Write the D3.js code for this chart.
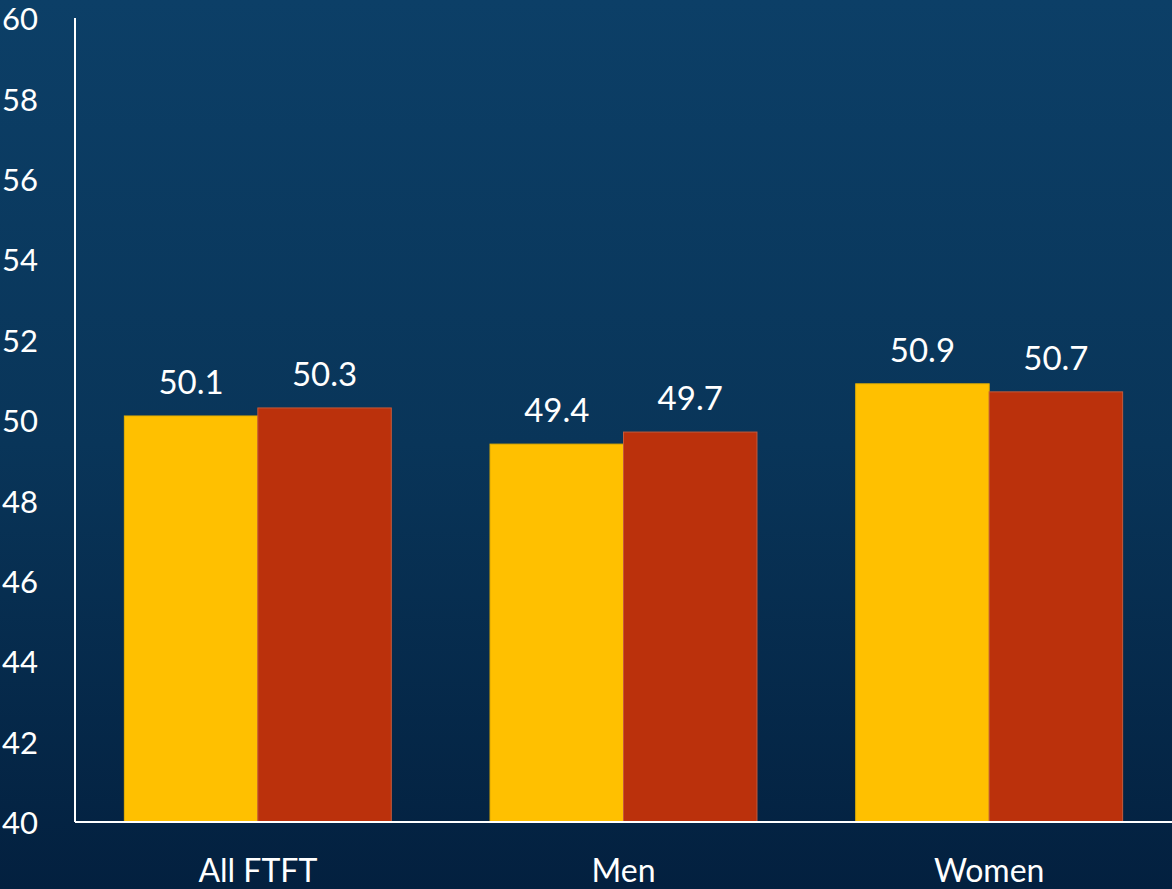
<!DOCTYPE html>
<html><head><meta charset="utf-8">
<script src="https://cdn.jsdelivr.net/npm/d3@7"></script>
<style>html,body{margin:0;padding:0;overflow:hidden;background:#0b3d64;}</style>
</head><body>
<svg id="c" width="1172" height="889"></svg>
<script>
const categories = ["All FTFT", "Men", "Women"];
const seriesNames = ["Series A", "Series B"];
const seriesA = [50.1, 49.4, 50.9];
const seriesB = [50.3, 49.7, 50.7];
const yTicks = [40, 42, 44, 46, 48, 50, 52, 54, 56, 58, 60];
const colors = ["#ffc000", "#bb310c"];
const strokes = ["#e6b000", "#c55a3a"];

const W = 1172, H = 889;
const svg = d3.select("#c");
const defs = svg.append("defs");
const grad = defs.append("linearGradient").attr("id","bg").attr("x1",0).attr("y1",0).attr("x2",0).attr("y2",1);
grad.append("stop").attr("offset","0%").attr("stop-color","#0c3f67");
grad.append("stop").attr("offset","50%").attr("stop-color","#093559");
grad.append("stop").attr("offset","100%").attr("stop-color","#03203f");
svg.append("rect").attr("width",W).attr("height",H).attr("fill","url(#bg)");

const x0 = 75, x1 = 1172, yTop = 18, yBot = 822;
const x = d3.scaleBand().domain(categories).range([x0, x1]).paddingInner(0.27).paddingOuter(0.135);
const xs = d3.scaleBand().domain(seriesNames).range([0, x.bandwidth()]);
const y = d3.scaleLinear().domain([40, 60]).range([yBot, yTop]);

const data = categories.map((c,i)=>({c, vals:[seriesA[i], seriesB[i]]}));
const font = "Lato, 'Open Sans', sans-serif";

const g = svg.append("g");
data.forEach(d=>{
  d.vals.forEach((v,j)=>{
    const bx = x(d.c) + xs(seriesNames[j]);
    g.append("rect").attr("x",bx).attr("y",y(v)).attr("width",xs.bandwidth()).attr("height",yBot - y(v))
      .attr("fill",colors[j]).attr("stroke",strokes[j]).attr("stroke-width",1);
    g.append("text").attr("x",bx + xs.bandwidth()/2).attr("y",y(v)-22)
      .attr("text-anchor","middle").attr("fill","#fff").attr("font-family",font).attr("font-size",33)
      .text(v.toFixed(1));
  });
});

// y axis
const yAxis = d3.axisLeft(y).tickValues(yTicks).tickSize(0).tickFormat(d3.format("d"));
const ya = svg.append("g").attr("transform",`translate(${x0},0)`).call(yAxis);
ya.select(".domain").attr("stroke","#fff").attr("stroke-width",2).attr("d",`M0,${yTop}V${yBot}`);
ya.selectAll("text").attr("x",-x0+2).attr("text-anchor","start").attr("fill","#fff")
  .attr("font-family",font).attr("font-size",31).attr("dy","0.38em");

// x axis
const xAxis = d3.axisBottom(x).tickSize(0);
const xa = svg.append("g").attr("transform",`translate(0,${yBot})`).call(xAxis);
xa.select(".domain").attr("stroke","#fff").attr("stroke-width",2).attr("d",`M${x0},0H${x1}`);
xa.selectAll("text").attr("y",60).attr("dy",0).attr("fill","#fff").attr("font-family",font).attr("font-size",32);
</script>
</body></html>
